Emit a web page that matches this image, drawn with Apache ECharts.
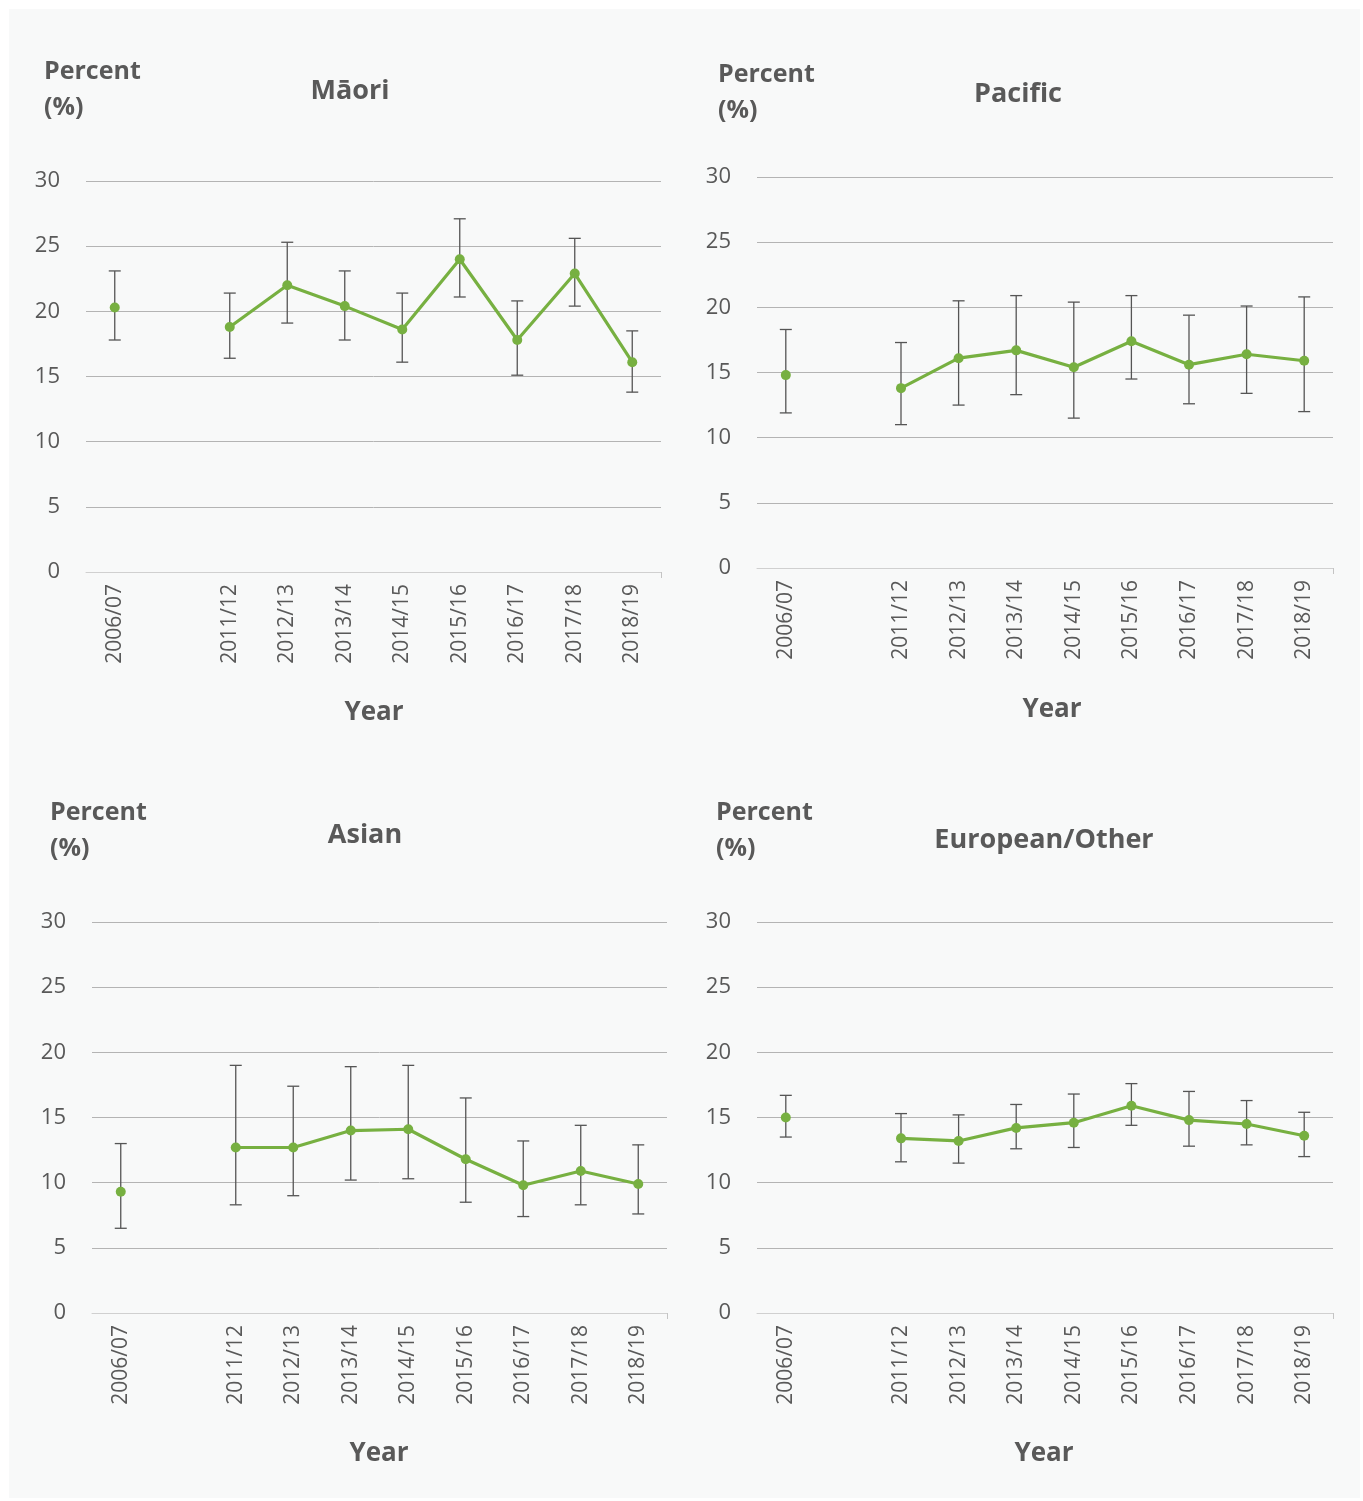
<!DOCTYPE html>
<html>
<head>
<meta charset="utf-8">
<style>
  html, body { margin: 0; padding: 0; background: #ffffff; }
  #panel { position: absolute; left: 9px; top: 9px; width: 1351px; height: 1489px; background: #f8f9f9; }
  #chart { position: absolute; left: 0; top: 0; width: 1363px; height: 1501px; }
</style>
<script src="https://cdn.jsdelivr.net/npm/echarts@6/dist/echarts.min.js"></script>
</head>
<body>
<div id="panel"></div>
<div id="chart"></div>
<script>
// Survey years; the empty slot marks the gap between 2006/07 and 2011/12
var years = ['2006/07', '', '2011/12', '2012/13', '2013/14', '2014/15', '2015/16', '2016/17', '2017/18', '2018/19'];
var yTicks = [0, 5, 10, 15, 20, 25, 30];

// Prevalence (%) with 95% confidence intervals, by ethnic group
var maoriValue = [20.3, null, 18.8, 22.0, 20.4, 18.6, 24.0, 17.8, 22.9, 16.1];
var maoriLow   = [17.8, null, 16.4, 19.1, 17.8, 16.1, 21.1, 15.1, 20.4, 13.8];
var maoriHigh  = [23.1, null, 21.4, 25.3, 23.1, 21.4, 27.1, 20.8, 25.6, 18.5];

var pacificValue = [14.8, null, 13.8, 16.1, 16.7, 15.4, 17.4, 15.6, 16.4, 15.9];
var pacificLow   = [11.9, null, 11.0, 12.5, 13.3, 11.5, 14.5, 12.6, 13.4, 12.0];
var pacificHigh  = [18.3, null, 17.3, 20.5, 20.9, 20.4, 20.9, 19.4, 20.1, 20.8];

var asianValue = [9.3, null, 12.7, 12.7, 14.0, 14.1, 11.8, 9.8, 10.9, 9.9];
var asianLow   = [6.5, null, 8.3, 9.0, 10.2, 10.3, 8.5, 7.4, 8.3, 7.6];
var asianHigh  = [13.0, null, 19.0, 17.4, 18.9, 19.0, 16.5, 13.2, 14.4, 12.9];

var euroValue = [15.0, null, 13.4, 13.2, 14.2, 14.6, 15.9, 14.8, 14.5, 13.6];
var euroLow   = [13.5, null, 11.6, 11.5, 12.6, 12.7, 14.4, 12.8, 12.9, 12.0];
var euroHigh  = [16.7, null, 15.3, 15.2, 16.0, 16.8, 17.6, 17.0, 16.3, 15.4];

var groups = [
  { name: 'Māori', value: maoriValue, low: maoriLow, high: maoriHigh,
    grid: { left: 86, top: 181, width: 575, height: 391 },
    unitX: 44, unitY: 54, titleX: 350, titleY: 91, yearX: 374, yearY: 713 },
  { name: 'Pacific', value: pacificValue, low: pacificLow, high: pacificHigh,
    grid: { left: 757, top: 177, width: 576, height: 391 },
    unitX: 718, unitY: 57, titleX: 1018, titleY: 94, yearX: 1052, yearY: 710 },
  { name: 'Asian', value: asianValue, low: asianLow, high: asianHigh,
    grid: { left: 92, top: 922, width: 575, height: 391 },
    unitX: 50, unitY: 795, titleX: 365, titleY: 835, yearX: 379, yearY: 1454 },
  { name: 'European/Other', value: euroValue, low: euroLow, high: euroHigh,
    grid: { left: 757, top: 922, width: 576, height: 391 },
    unitX: 716, unitY: 795, titleX: 1044, titleY: 840, yearX: 1044, yearY: 1454 }
];

var FONT = '"Open Sans", "Noto Sans", sans-serif';
var TEXT = '#595959';
var GREEN = '#77b041';

var grid = [], xAxis = [], yAxis = [], series = [], graphic = [];

groups.forEach(function (g, i) {
  grid.push(Object.assign({ containLabel: false }, g.grid));

  // category axis carrying the survey years
  xAxis.push({
    type: 'category', gridIndex: i, data: years, boundaryGap: true,
    axisLine: { lineStyle: { color: '#d0d0d0', width: 1 } },
    axisTick: { alignWithLabel: true, length: 6, lineStyle: { color: '#c4c4c4' } },
    axisLabel: { rotate: 90, interval: 0, margin: 12, fontSize: 21, color: TEXT, fontFamily: FONT },
    splitLine: { show: false }
  });
  // companion axis that only puts the closing tick at the right end
  xAxis.push({
    type: 'value', gridIndex: i, min: 0, max: 1, interval: 1, position: 'bottom',
    axisLine: { show: false }, axisLabel: { show: false }, splitLine: { show: false },
    axisTick: { show: true, customValues: [1], length: 6, lineStyle: { color: '#c4c4c4' } }
  });

  yAxis.push({
    type: 'value', gridIndex: i, min: 0, max: 30, interval: 5,
    axisLine: { show: false }, axisTick: { show: false },
    axisLabel: { margin: 26, fontSize: 22, color: TEXT, fontFamily: FONT },
    splitLine: { lineStyle: { color: '#b4b4b4', width: 1 } }
  });

  var bars = [];
  for (var k = 0; k < years.length; k++) {
    if (g.low[k] != null) bars.push([k, g.low[k], g.high[k]]);
  }

  series.push({
    type: 'custom', name: g.name + ' CI', xAxisIndex: i * 2, yAxisIndex: i, z: 2,
    data: bars, silent: true,
    renderItem: function (params, api) {
      var x = api.value(0);
      var lo = api.coord([x, api.value(1)]);
      var hi = api.coord([x, api.value(2)]);
      var cap = 6;
      var st = { stroke: '#555555', lineWidth: 1.3 };
      return {
        type: 'group',
        children: [
          { type: 'line', shape: { x1: lo[0], y1: lo[1], x2: hi[0], y2: hi[1] }, style: st },
          { type: 'line', shape: { x1: hi[0] - cap, y1: hi[1], x2: hi[0] + cap, y2: hi[1] }, style: st },
          { type: 'line', shape: { x1: lo[0] - cap, y1: lo[1], x2: lo[0] + cap, y2: lo[1] }, style: st }
        ]
      };
    }
  });

  series.push({
    type: 'line', name: g.name, xAxisIndex: i * 2, yAxisIndex: i, z: 5,
    data: g.value, connectNulls: false,
    symbol: 'circle', symbolSize: 10, showSymbol: true,
    lineStyle: { color: GREEN, width: 3.2 },
    itemStyle: { color: GREEN },
    silent: true, animation: false
  });

  graphic.push({
    type: 'text', left: g.unitX, top: g.unitY,
    style: { text: 'Percent\n(%)', font: 'bold 25px ' + FONT, fill: TEXT, lineHeight: 36 }
  });
  graphic.push({
    type: 'text', x: g.titleX, y: g.titleY,
    style: { text: g.name, font: 'bold 27px ' + FONT, fill: TEXT, align: 'center', verticalAlign: 'middle' }
  });
  graphic.push({
    type: 'text', x: g.yearX, y: g.yearY,
    style: { text: 'Year', font: 'bold 26px ' + FONT, fill: TEXT, align: 'center', verticalAlign: 'middle' }
  });
});

var chart = echarts.init(document.getElementById('chart'), null, { renderer: 'canvas' });
chart.setOption({
  backgroundColor: 'transparent',
  animation: false,
  grid: grid, xAxis: xAxis, yAxis: yAxis, series: series, graphic: graphic
});
</script>
</body>
</html>
